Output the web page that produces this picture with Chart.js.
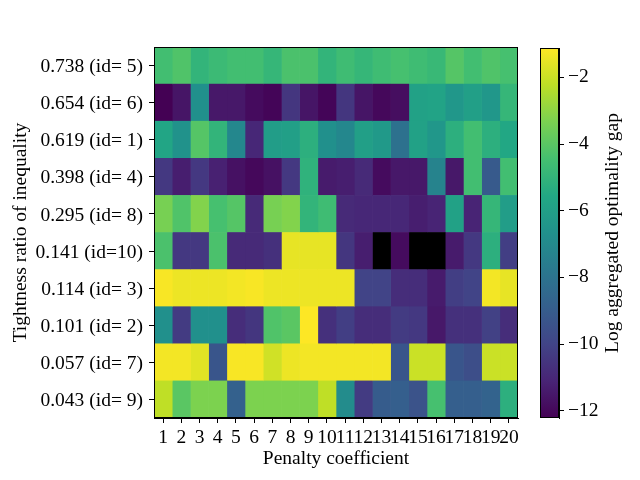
<!DOCTYPE html>
<html>
<head>
<meta charset="utf-8">
<script src="https://cdn.jsdelivr.net/npm/chart.js@4.4.1/dist/chart.umd.min.js"></script>
<style>
  body { margin: 0; background: #fff; }
  #wrap { position: relative; width: 640px; height: 480px; }
  #heat { position: absolute; left: 0; top: 0; }
  #cbar { position: absolute; left: 530px; top: 0; }
</style>
</head>
<body>
<div id="wrap">
  <canvas id="heat" width="530" height="480"></canvas>
  <canvas id="cbar" width="110" height="480"></canvas>
</div>
<script>
// Eixo x: coeficientes de penalidade
const penalties = ['1','2','3','4','5','6','7','8','9','10','11','12','13','14','15','16','17','18','19','20'];

// Eixo y: razão de aperto da desigualdade (de cima para baixo)
const rowLabels = ['0.738 (id= 5)', '0.654 (id= 6)', '0.619 (id= 1)', '0.398 (id= 4)', '0.295 (id= 8)',
                   '0.141 (id=10)', '0.114 (id= 3)', '0.101 (id= 2)', '0.057 (id= 7)', '0.043 (id= 9)'];

// Log do gap de otimalidade agregado, uma linha por desigualdade (null = sem valor, preto)
const gapId5  = [-4.5, -4.2, -5.0, -4.7, -4.5, -4.5, -4.9, -4.3, -4.3, -5.0, -4.6, -4.9, -4.6, -4.4, -4.6, -4.8, -4.1, -4.5, -4.2, -4.4];
const gapId6  = [-12.22, -11.6, -6.7, -11.5, -11.5, -11.9, -12.1, -10.5, -11.6, -12.1, -10.5, -11.6, -12.0, -11.8, -5.9, -5.8, -6.4, -6.0, -6.4, -4.9];
const gapId1  = [-5.7, -6.6, -4.1, -5.0, -7.1, -11.0, -6.1, -6.0, -5.2, -6.7, -7.1, -6.0, -6.3, -8.1, -5.9, -6.4, -5.2, -4.5, -5.2, -5.6];
const gapId4  = [-10.4, -11.3, -10.4, -11.2, -11.7, -12.0, -11.7, -10.4, -5.1, -11.4, -11.3, -10.9, -11.9, -11.5, -11.5, -7.3, -11.5, -4.5, -9.1, -4.5];
const gapId8  = [-3.4, -4.2, -3.2, -4.4, -4.1, -10.9, -3.4, -3.2, -5.0, -4.6, -10.9, -11.0, -11.0, -11.0, -11.3, -11.1, -5.9, -11.1, -4.9, -6.1];
const gapId10 = [-4.3, -10.4, -10.4, -4.3, -10.9, -10.9, -10.7, -1.5, -1.5, -1.5, -10.5, -11.3, null, -11.9, null, null, -11.4, -10.4, -5.2, -10.2];
const gapId3  = [-1.2, -1.4, -1.4, -1.4, -1.3, -1.2, -1.4, -1.4, -1.4, -1.4, -1.4, -10.0, -10.0, -10.8, -10.8, -11.4, -10.2, -10.0, -1.3, -1.5];
const gapId2  = [-6.7, -10.3, -6.7, -6.7, -10.8, -10.5, -4.2, -4.0, -1.12, -10.7, -10.2, -10.8, -10.8, -10.3, -10.4, -11.5, -10.7, -10.7, -10.1, -10.8];
const gapId7  = [-1.3, -1.3, -1.6, -9.3, -1.2, -1.2, -1.9, -1.4, -1.3, -1.3, -1.3, -1.3, -1.3, -9.3, -2.0, -2.0, -9.3, -9.6, -2.0, -2.0];
const gapId9  = [-2.2, -4.0, -3.3, -3.3, -8.8, -3.3, -3.3, -3.3, -3.3, -2.2, -6.9, -10.3, -9.0, -8.9, -9.4, -4.4, -8.9, -8.9, -8.7, -5.2];

const linhas = [gapId5, gapId6, gapId1, gapId4, gapId8, gapId10, gapId3, gapId2, gapId7, gapId9];

// Ticks da barra de cores
const cbarTicks = [-12, -10, -8, -6, -4, -2];

// Paleta viridis (11 pontos)
const viridis = ['#440154', '#482475', '#414487', '#355f8d', '#2a788e', '#21918c',
                 '#22a884', '#44bf70', '#7ad151', '#bddf26', '#fde725'];

const todos = linhas.flat().filter(v => v !== null);
const vmin = Math.min(...todos);
const vmax = Math.max(...todos);

function hexRgb(h) {
    return [parseInt(h.slice(1, 3), 16), parseInt(h.slice(3, 5), 16), parseInt(h.slice(5, 7), 16)];
}

function corDoValor(v) {
    if (v === null) return '#000000';
    let t = (v - vmin) / (vmax - vmin);
    t = Math.max(0, Math.min(1, t)) * (viridis.length - 1);
    const i = Math.min(Math.floor(t), viridis.length - 2);
    const f = t - i;
    const a = hexRgb(viridis[i]), b = hexRgb(viridis[i + 1]);
    const c = a.map((x, k) => Math.round(x + (b[k] - x) * f));
    return `rgb(${c[0]},${c[1]},${c[2]})`;
}

Chart.defaults.font.family = "'Liberation Serif', 'Times New Roman', serif";
Chart.defaults.font.size = 19.5;
Chart.defaults.color = '#000';

// Moldura preta em volta da área do gráfico
const moldura = {
    id: 'moldura',
    afterDraw(chart) {
        const a = chart.chartArea;
        const ctx = chart.ctx;
        ctx.save();
        ctx.strokeStyle = '#000';
        ctx.lineWidth = 1;
        ctx.strokeRect(Math.round(a.left) + 0.5, Math.round(a.top) + 0.5,
                       Math.round(a.right - a.left) - 1, Math.round(a.bottom - a.top) - 1);
        ctx.restore();
    }
};

// Um dataset por coluna (coeficiente), empilhado na horizontal
const datasets = penalties.map((p, j) => ({
    label: p,
    data: linhas.map(() => 1),
    backgroundColor: linhas.map(r => corDoValor(r[j])),
    borderWidth: 0,
    barPercentage: 1,
    categoryPercentage: 1
}));

new Chart(document.getElementById('heat'), {
    type: 'bar',
    data: { labels: rowLabels, datasets: datasets },
    options: {
        indexAxis: 'y',
        responsive: false,
        animation: false,
        layout: { padding: { top: 47, right: 12, left: 0, bottom: 0 } },
        plugins: { legend: { display: false }, tooltip: { enabled: false } },
        scales: {
            x: {
                type: 'linear',
                stacked: true,
                min: 0,
                max: penalties.length,
                afterBuildTicks: s => { s.ticks = penalties.map((p, i) => ({ value: i + 0.5 })); },
                afterFit: s => { s.height = 62; },
                ticks: {
                    autoSkip: false,
                    maxRotation: 0,
                    padding: 3,
                    callback: (v, i) => penalties[i]
                },
                grid: { drawOnChartArea: false, drawTicks: true, tickLength: 5, color: '#000' },
                border: { display: true, color: '#000' },
                title: { display: true, text: 'Penalty coefficient', padding: { top: 0, bottom: 9 } }
            },
            y: {
                stacked: true,
                afterFit: s => { s.width = 154; },
                ticks: { padding: 6, labelOffset: 1.5 },
                grid: { offset: false, drawOnChartArea: false, drawTicks: true, tickLength: 5, color: '#000' },
                border: { display: true, color: '#000' },
                title: { display: true, text: 'Tightness ratio of inequality', padding: { top: 9, bottom: 9 } }
            }
        }
    },
    plugins: [moldura]
});

// Rótulo da barra de cores (rotacionado de baixo para cima)
const rotuloBarra = {
    id: 'rotuloBarra',
    afterDraw(chart) {
        const ctx = chart.ctx;
        ctx.save();
        ctx.translate(83, 233);
        ctx.rotate(-Math.PI / 2);
        ctx.font = "19.5px 'Liberation Serif', 'Times New Roman', serif";
        ctx.fillStyle = '#000';
        ctx.textAlign = 'center';
        ctx.textBaseline = 'middle';
        ctx.fillText('Log aggregated optimality gap', 0, 0);
        ctx.restore();
    }
};

new Chart(document.getElementById('cbar'), {
    type: 'bar',
    data: {
        labels: [''],
        datasets: [{
            data: [[vmin, vmax]],
            backgroundColor: ctx => {
                const a = ctx.chart.chartArea;
                if (!a) return '#21918c';
                const g = ctx.chart.ctx.createLinearGradient(0, a.bottom, 0, a.top);
                viridis.forEach((c, k) => g.addColorStop(k / (viridis.length - 1), c));
                return g;
            },
            borderWidth: 0,
            barPercentage: 1,
            categoryPercentage: 1
        }]
    },
    options: {
        responsive: false,
        animation: false,
        layout: { padding: { top: 48, left: 10, right: 0, bottom: 62 } },
        plugins: { legend: { display: false }, tooltip: { enabled: false } },
        scales: {
            x: { display: false },
            y: {
                position: 'right',
                min: vmin,
                max: vmax,
                afterBuildTicks: s => { s.ticks = cbarTicks.map(v => ({ value: v })); },
                afterFit: s => { s.width = 81; },
                ticks: { padding: 4, callback: v => '\u2212' + Math.abs(v) },
                grid: { drawOnChartArea: false, drawTicks: true, tickLength: 5, color: '#000' },
                border: { display: true, color: '#000' }
            }
        }
    },
    plugins: [moldura, rotuloBarra]
});
</script>
</body>
</html>
